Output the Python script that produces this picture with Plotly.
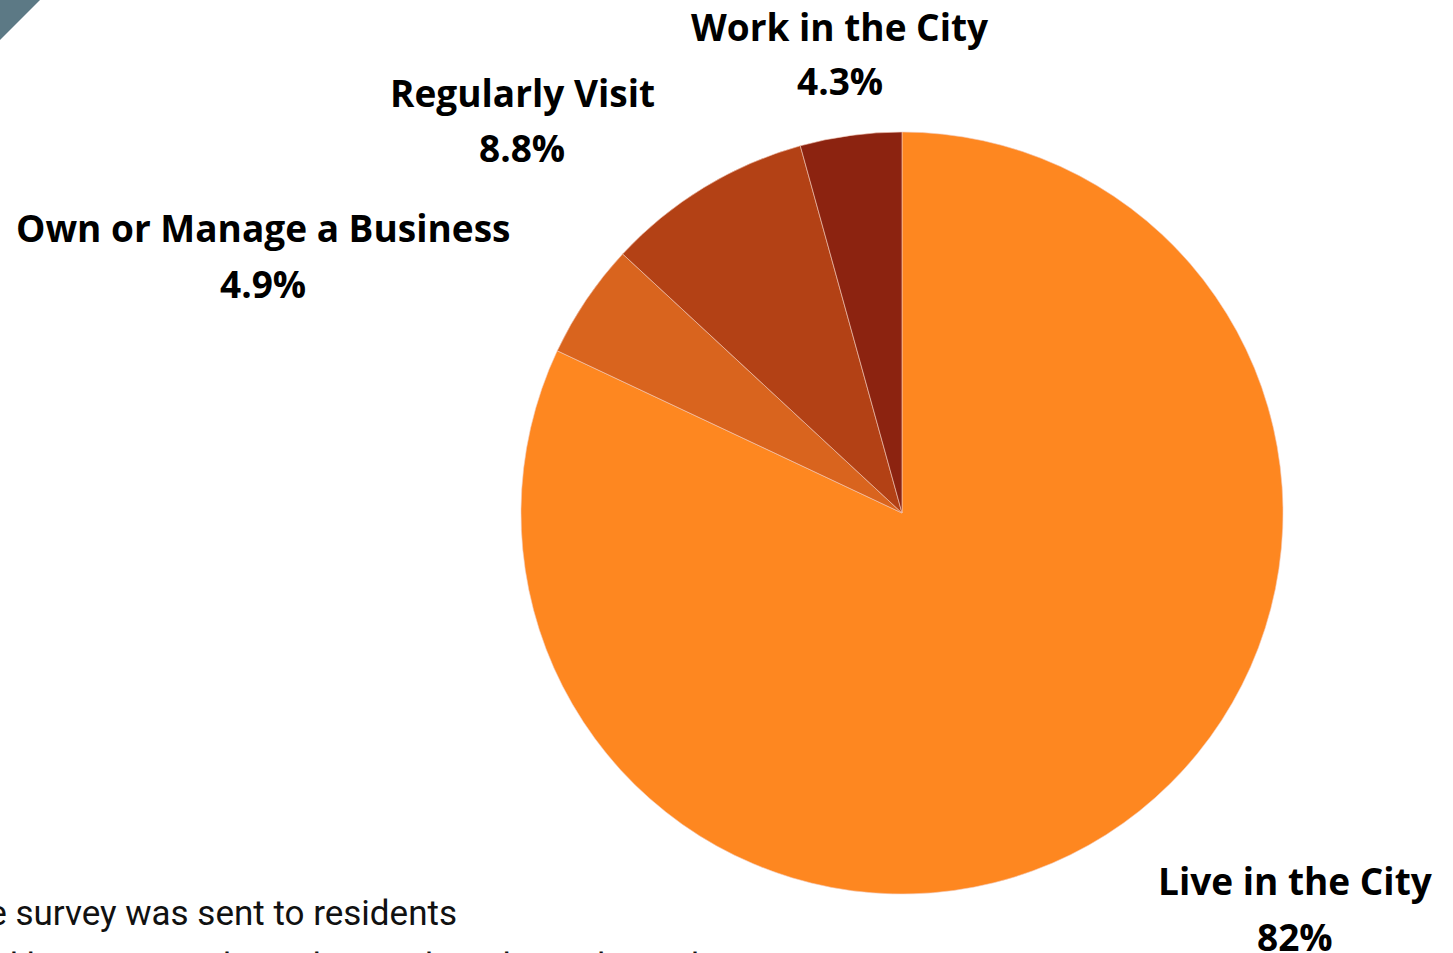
import plotly.graph_objects as go

# Survey respondents by relationship to the city
categories = ["Live in the City", "Own or Manage a Business", "Regularly Visit", "Work in the City"]
shares = [82.0, 4.9, 8.8, 4.3]
share_labels = ["82%", "4.9%", "8.8%", "4.3%"]
slice_colors = ["#FE8720", "#D9641E", "#B34115", "#8C2310"]

W, H = 1453, 953

fig = go.Figure(
    go.Pie(
        labels=categories,
        values=shares,
        sort=False,
        direction="clockwise",
        rotation=0,
        marker=dict(colors=slice_colors, line=dict(color="#f3c9b8", width=0.6)),
        textinfo="none",
        hoverinfo="label+percent",
        showlegend=False,
        domain=dict(x=[521 / W, 1283 / W], y=[59 / H, 821 / H]),
    )
)

# Slice labels: name line and share line, placed around the pie (pixels)
label_pos = {
    "Live in the City": (1295, 880, 936),
    "Own or Manage a Business": (263, 227, 283),
    "Regularly Visit": (522, 92, 147),
    "Work in the City": (840, 27, 81),
}
label_font = dict(family="Open Sans", size=37, color="#000000", weight=700)
for name, pct in zip(categories, share_labels):
    px, y_name, y_pct = label_pos[name]
    for txt, py in ((name, y_name), (pct, y_pct)):
        fig.add_annotation(
            x=px / W, y=1 - py / H, xref="paper", yref="paper",
            text=txt, showarrow=False, xanchor="center", yanchor="middle",
            font=label_font,
        )

# Footnote text at lower left
note_font = dict(family="Roboto", size=35, color="#111111")
fig.add_annotation(
    x=459 / W, y=1 - 913 / H, xref="paper", yref="paper",
    text="The survey was sent to residents",
    showarrow=False, xanchor="right", yanchor="middle", font=note_font,
)
fig.add_annotation(
    x=-42 / W, y=1 - 966 / H, xref="paper", yref="paper",
    text="and businesses through social media and email",
    showarrow=False, xanchor="left", yanchor="middle", font=note_font,
)

# Corner accent triangle
fig.add_shape(
    type="path", xref="paper", yref="paper",
    path=f"M 0,1 L {40 / W},1 L 0,{1 - 40 / H} Z",
    fillcolor="#5C7985", line=dict(width=0),
)

fig.update_layout(
    width=W, height=H,
    margin=dict(l=0, r=0, t=0, b=0),
    paper_bgcolor="white", plot_bgcolor="white",
)

fig.write_html("out.html")
